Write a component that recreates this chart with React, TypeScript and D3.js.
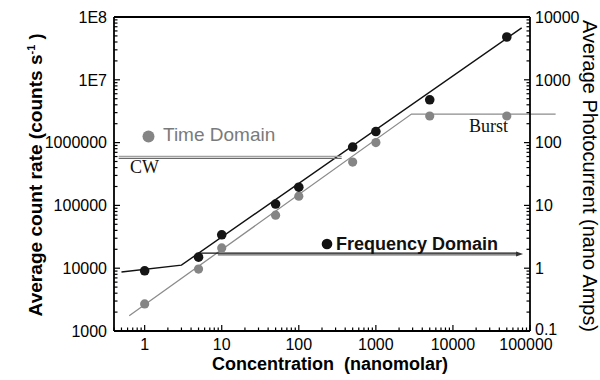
import React from 'react';
import * as d3 from 'd3';

// ---- data ----
const concentration = [1, 5, 10, 50, 100, 500, 1000, 5000, 50000];
const frequencyDomain = [9100, 15000, 34000, 105000, 195000, 850000, 1500000, 4800000, 48000000];
const timeDomain = [2700, 9700, 21000, 70000, 140000, 490000, 1000000, 2650000, 2650000];

const freqFitX = [0.5, 3, 78000];
const freqFitY = [8700, 11200, 67000000];
const timeFitX = [0.63, 2900, 215000];
const timeFitY = [1750, 2850000, 2850000];

const cwX = [0.46, 360];
const cwLevel = 580000;
const fdArrowX = [5, 70000];
const fdArrowX2 = [8.9, 70000];
const fdLevel = 16800;

const xTicks = [1, 10, 100, 1000, 10000, 100000];
const xTickLabels = ['1', '10', '100', '1000', '10000', '100000'];
const yLeftTicks = [1000, 10000, 100000, 1000000, 1e7, 1e8];
const yLeftLabels = ['1000', '10000', '100000', '1000000', '1E7', '1E8'];
const yRightTicks = [0.1, 1, 10, 100, 1000, 10000];
const yRightLabels = ['0.1', '1', '10', '100', '1000', '10000'];

const W = 600, H = 380;
const L = 114, R = 530, T = 17, B = 331;
const FONT = "'Liberation Sans', Arial, Helvetica, sans-serif";
const SERIF = "'Liberation Serif', 'Times New Roman', serif";
const GREY = '#858585';

export default function App() {
  const x = d3.scaleLog().domain([0.4, 100000]).range([L, R]);
  const y = d3.scaleLog().domain([1000, 1e8]).range([B, T]);
  const yr = d3.scaleLog().domain([0.1, 10000]).range([B, T]);

  const line = d3.line<[number, number]>().x(d => x(d[0])).y(d => y(d[1]));
  const freqFit = line(freqFitX.map((v, i) => [v, freqFitY[i]] as [number, number]));
  const timeFit = line(timeFitX.map((v, i) => [v, timeFitY[i]] as [number, number]));

  const isMajor = (v: number) => Math.abs(Math.log10(v) - Math.round(Math.log10(v))) < 1e-6;
  const xMinor = x.ticks().filter(v => v >= 0.4 && v <= 100000);
  const yMinor = y.ticks();

  const arrowEnd = x(fdArrowX[1]);
  const fdY = y(fdLevel);

  return (
    <svg width={W} height={H} style={{ position: 'absolute', left: 0, top: 0, background: '#fff' }}>
      <rect x={0} y={0} width={W} height={H} fill="#fff" />
      {/* fit lines */}
      <path d={timeFit ?? ''} fill="none" stroke="#8c8c8c" strokeWidth={1.3} />
      <path d={freqFit ?? ''} fill="none" stroke="#111" strokeWidth={1.4} />

      {/* CW double line */}
      <line x1={x(cwX[0])} x2={x(cwX[1])} y1={y(cwLevel) - 1} y2={y(cwLevel) - 1} stroke="#a0a0a0" strokeWidth={1.3} />
      <line x1={x(cwX[0])} x2={x(cwX[1])} y1={y(cwLevel) + 1} y2={y(cwLevel) + 1} stroke="#6a6a6a" strokeWidth={1.2} />

      {/* Frequency domain arrow */}
      <line x1={x(fdArrowX[0])} x2={arrowEnd} y1={fdY - 1} y2={fdY - 1} stroke="#111" strokeWidth={1.2} />
      <line x1={x(fdArrowX2[0])} x2={arrowEnd} y1={fdY + 0.8} y2={fdY + 0.8} stroke="#666" strokeWidth={1.2} />
      <path d={`M${arrowEnd + 5},${fdY} L${arrowEnd - 2},${fdY - 2.5} L${arrowEnd - 2},${fdY + 2.5} Z`} fill="#333" />

      {/* data points */}
      {concentration.map((c, i) => (
        <circle key={'t' + i} cx={x(c)} cy={y(timeDomain[i])} r={4.6} fill={GREY} />
      ))}
      {concentration.map((c, i) => (
        <circle key={'f' + i} cx={x(c)} cy={y(frequencyDomain[i])} r={4.8} fill="#151515" />
      ))}

      {/* annotations */}
      <circle cx={148.5} cy={136.5} r={6} fill={GREY} />
      <text x={163} y={141} fontFamily={FONT} fontSize={19} fill="#7a7a7a">Time Domain</text>
      <circle cx={327} cy={244} r={5.3} fill="#111" />
      <text x={336} y={250} fontFamily={FONT} fontSize={18} fontWeight="bold" fill="#111">Frequency Domain</text>
      <text x={130} y={172.5} fontFamily={SERIF} fontSize={18} fill="#111">CW</text>
      <text x={469} y={131.5} fontFamily={SERIF} fontSize={18} fill="#111">Burst</text>

      {/* axes box */}
      <g stroke="#000" strokeWidth={1.8} fill="none">
        <line x1={L} x2={R} y1={T} y2={T} />
        <line x1={L} x2={R} y1={B} y2={B} />
        <line x1={L} x2={L} y1={T} y2={B} />
        <line x1={R} x2={R} y1={T} y2={B} />
      </g>

      {/* ticks */}
      <g stroke="#000" strokeWidth={1.2}>
        {xMinor.map((v, i) => (
          <line key={i} x1={x(v)} x2={x(v)} y1={B} y2={B - (isMajor(v) ? 6 : 3.5)} />
        ))}
        {yMinor.map((v, i) => (
          <line key={'l' + i} x1={L} x2={L + (isMajor(v) ? 6 : 3.5)} y1={y(v)} y2={y(v)} />
        ))}
        {yMinor.map((v, i) => (
          <line key={'r' + i} x1={R} x2={R - (isMajor(v) ? 6 : 3.5)} y1={y(v)} y2={y(v)} />
        ))}
      </g>

      {/* tick labels */}
      <g fontFamily={FONT} fontSize={16} fill="#000">
        {xTicks.map((v, i) => (
          <text key={i} x={x(v) - (i === xTicks.length - 1 ? 4 : 0)} y={350} textAnchor="middle">{xTickLabels[i]}</text>
        ))}
        {yLeftTicks.map((v, i) => (
          <text key={i} x={107} y={y(v)} dy="0.36em" textAnchor="end">{yLeftLabels[i]}</text>
        ))}
        {yRightTicks.map((v, i) => (
          <text key={i} x={535} y={yr(v) - (i === 0 ? 2 : 0)} dy="0.36em" textAnchor="start">{yRightLabels[i]}</text>
        ))}
      </g>

      {/* axis titles */}
      <text x={330} y={370} textAnchor="middle" fontFamily={FONT} fontSize={18} fontWeight="bold">{'Concentration\u00A0\u00A0(nanomolar)'}</text>
      <text transform="translate(42,175) rotate(-90)" textAnchor="middle" fontFamily={FONT} fontSize={18} fontWeight="bold">
        <tspan textLength={262} lengthAdjust="spacingAndGlyphs">Average count rate (counts s</tspan>
        <tspan dy={-7} fontSize={11}>-1</tspan><tspan dy={7}>{'\u00A0)'}</tspan>
      </text>
      <text transform="translate(583,176) rotate(90)" textAnchor="middle" fontFamily={FONT} fontSize={19.5}
        textLength={312} lengthAdjust="spacingAndGlyphs">
        Average Photocurrent (nano Amps)
      </text>
    </svg>
  );
}
